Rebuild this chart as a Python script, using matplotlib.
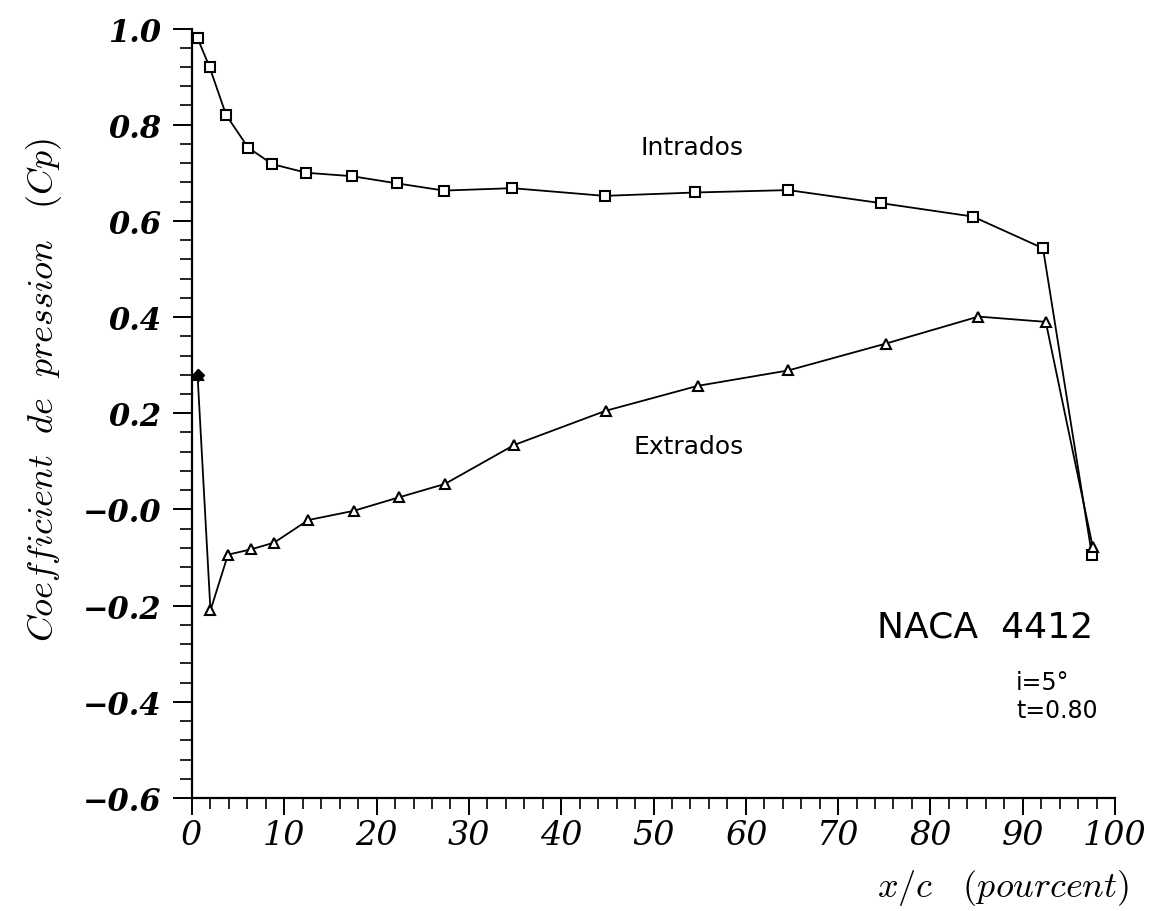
import matplotlib
matplotlib.use("Agg")
import matplotlib.pyplot as plt
from matplotlib.ticker import MultipleLocator, FixedLocator

# ---- data ----
intrados_x = [0.6, 1.9, 3.7, 6.1, 8.7, 12.4, 17.3, 22.2, 27.3, 34.7, 44.7, 54.5, 64.6, 74.6, 84.6, 92.2, 97.5]
intrados_cp = [0.98, 0.92, 0.82, 0.752, 0.718, 0.700, 0.693, 0.678, 0.663, 0.668, 0.652, 0.659, 0.664, 0.637, 0.609, 0.543, -0.095]

extrados_x = [0.6, 2.0, 3.9, 6.4, 8.9, 12.6, 17.5, 22.4, 27.4, 34.9, 44.8, 54.8, 64.6, 75.2, 85.2, 92.5, 97.6]
extrados_cp = [0.28, -0.21, -0.094, -0.083, -0.069, -0.022, -0.003, 0.025, 0.053, 0.134, 0.205, 0.257, 0.289, 0.345, 0.401, 0.390, -0.079]

y_ticks = [1.0, 0.8, 0.6, 0.4, 0.2, 0.0, -0.2, -0.4, -0.6]
y_tick_labels = ["1.0", "0.8", "0.6", "0.4", "0.2", "\u22120.0", "\u22120.2", "\u22120.4", "\u22120.6"]
x_ticks = [0, 10, 20, 30, 40, 50, 60, 70, 80, 90, 100]
x_tick_labels = ["0", "10", "20", "30", "40", "50", "60", "70", "80", "90", "100"]

W, H = 1152, 912
plt.rcParams["mathtext.fontset"] = "cm"
fig = plt.figure(figsize=(W / 100, H / 100), dpi=100)
fig.patch.set_facecolor("white")

def fx(px):
    return px / W

def fy(py):
    return 1 - py / H

ax = fig.add_axes([fx(192), fy(799), fx(1115) - fx(192), fy(29.5) - fy(799)])
ax.set_xlim(0, 100)
ax.set_ylim(-0.6, 1.0)

for s in ("top", "right"):
    ax.spines[s].set_visible(False)
for s in ("left", "bottom"):
    ax.spines[s].set_linewidth(1.6)
    ax.spines[s].set_color("black")

ax.plot(intrados_x, intrados_cp, color="black", lw=1.3, marker="s", ms=7.5,
        mfc="white", mec="black", mew=1.5, zorder=3, clip_on=False)
ax.plot(extrados_x, extrados_cp, color="black", lw=1.3, marker="^", ms=7.5,
        mfc="white", mec="black", mew=1.5, zorder=3, clip_on=False)
ax.plot(extrados_x[:1], extrados_cp[:1], linestyle="none", marker="D", ms=6,
        mfc="black", mec="black", zorder=4, clip_on=False)

ax.yaxis.set_major_locator(FixedLocator(y_ticks))
ax.yaxis.set_minor_locator(MultipleLocator(0.04))
ax.xaxis.set_major_locator(FixedLocator(x_ticks))
ax.xaxis.set_minor_locator(MultipleLocator(2))
ax.set_yticklabels(y_tick_labels, fontfamily="DejaVu Serif", fontstyle="italic",
                   fontweight="bold", fontsize=22)
ax.set_xticklabels(x_tick_labels, fontfamily="DejaVu Serif", fontstyle="italic",
                   fontsize=24)
ax.tick_params(axis="y", which="major", direction="out", length=14, width=1.4, pad=8)
ax.tick_params(axis="y", which="minor", direction="out", length=9, width=1.2)
ax.tick_params(axis="x", which="major", direction="out", length=12, width=1.4, pad=3)
ax.tick_params(axis="x", which="minor", direction="out", length=8, width=1.2)

fig.text(fx(44), fy(390), r"$Coefficient\ \ de\ \ pression\ \ \ (Cp)$",
         rotation=90, ha="center", va="center", fontsize=26)
fig.text(fx(1003), fy(888), r"$x/c\ \ \ (pourcent)$",
         ha="center", va="center", fontsize=26)

fig.text(fx(692), fy(148), "Intrados", ha="center", va="center",
         fontfamily="DejaVu Sans", fontsize=18)
fig.text(fx(689), fy(447), "Extrados", ha="center", va="center",
         fontfamily="DejaVu Sans", fontsize=18)
fig.text(fx(985), fy(628), "NACA  4412", ha="center", va="center",
         fontfamily="DejaVu Sans", fontsize=26)
fig.text(fx(1016), fy(690), "i=5\u00b0", ha="left", va="baseline",
         fontfamily="DejaVu Sans", fontsize=17)
fig.text(fx(1016), fy(718), "t=0.80", ha="left", va="baseline",
         fontfamily="DejaVu Sans", fontsize=17)

fig.savefig("out.png", dpi=100, facecolor="white")
